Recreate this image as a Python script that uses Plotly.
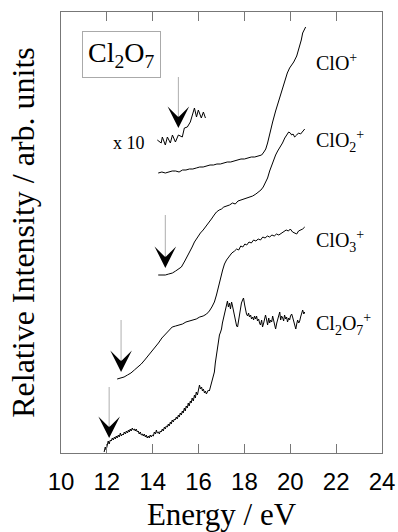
import plotly.graph_objects as go

# ---------------- data (energy in eV, intensity in arbitrary units) ----------------
clo_e = [14.24, 14.40, 14.55, 14.70, 14.85, 15.00, 15.15, 15.30, 15.45, 15.60, 15.75, 15.90,
         16.05, 16.20, 16.35, 16.50, 16.65, 16.80, 16.95, 17.10, 17.25, 17.40, 17.55, 17.70,
         17.85, 18.00, 18.15, 18.30, 18.45, 18.60, 18.75, 18.85, 18.93, 19.01, 19.10, 19.23,
         19.36, 19.54, 19.66, 19.76, 19.87, 19.97, 20.06, 20.15, 20.28, 20.41, 20.48, 20.54, 20.67]
clo_i = [280, 281, 280, 281, 282, 282, 281, 283, 283, 284, 284, 285,
         286, 286, 287, 288, 288, 289, 289, 290, 291, 291, 292, 293,
         294, 294, 295, 296, 296, 297, 298, 301, 304, 310, 320, 331,
         342, 356, 366, 373, 380, 385, 388, 391, 397, 406, 413, 420, 426]

clo_x10_e = [14.20, 14.37, 14.42, 14.55, 14.64, 14.77, 14.86, 14.99, 15.12, 15.29,
             15.38, 15.51, 15.64, 15.73, 15.82, 15.91, 15.99, 16.12, 16.21, 16.30]
clo_x10_i = [313, 310, 316, 308, 316, 310, 318, 311, 318, 316,
             325, 326, 331, 338, 345, 336, 343, 335, 341, 335]

clo2_e = [14.24, 14.40, 14.55, 14.70, 14.86, 15.00, 15.12, 15.25, 15.40, 15.50, 15.60, 15.72,
          15.82, 15.95, 16.08, 16.20, 16.34, 16.45, 16.56, 16.68, 16.78, 16.90, 17.00, 17.10,
          17.22, 17.35, 17.48, 17.60, 17.72, 17.85, 17.98, 18.10, 18.22, 18.36, 18.50, 18.62,
          18.72, 18.82, 18.92, 19.01, 19.10, 19.23, 19.36, 19.45, 19.54, 19.66, 19.76, 19.84,
          19.93, 20.00, 20.06, 20.12, 20.19, 20.28, 20.36, 20.45, 20.54, 20.63]
clo2_i = [178, 178, 178, 179, 180, 182, 184, 186, 192, 196, 201, 206,
          211, 216, 220, 223, 227, 230, 234, 238, 241, 243, 244, 246,
          247, 248, 250, 249, 252, 253, 254, 255, 256, 257, 259, 261,
          263, 266, 270, 275, 282, 291, 298, 302, 305, 310, 315, 318,
          321, 320, 318, 319, 316, 318, 320, 319, 322, 324]

clo3_e = [12.45, 12.60, 12.75, 12.90, 13.05, 13.20, 13.35, 13.50, 13.65, 13.80, 13.95, 14.10,
          14.25, 14.40, 14.55, 14.70, 14.85, 15.00, 15.15, 15.30, 15.45, 15.60, 15.75, 15.90,
          16.05, 16.20, 16.35, 16.47, 16.58, 16.69, 16.78, 16.86, 16.96, 17.05, 17.13, 17.22,
          17.35, 17.45, 17.57, 17.66, 17.75, 17.84, 17.93, 18.02, 18.10, 18.20, 18.30, 18.40,
          18.50, 18.60, 18.70, 18.80, 18.90, 19.00, 19.10, 19.20, 19.30, 19.40, 19.50, 19.62,
          19.72, 19.82, 19.92, 20.00, 20.10, 20.20, 20.28, 20.36, 20.45, 20.54, 20.63]
clo3_i = [74, 75, 76, 78, 80, 83, 86, 89, 93, 97, 101, 106,
          110, 115, 119, 123, 126, 127, 128, 129, 131, 132, 133, 134,
          136, 137, 139, 142, 146, 151, 158, 166, 175, 183, 189, 193,
          197, 200, 202, 204, 203, 207, 206, 209, 208, 211, 210, 213,
          212, 214, 213, 216, 215, 217, 216, 218, 217, 219, 218, 220,
          221, 223, 222, 224, 221, 220, 219, 222, 223, 224, 226]

cl2o7_e = [11.88, 11.93, 11.97, 12.01, 12.06, 12.10, 12.15, 12.19, 12.24, 12.28, 12.33, 12.37,
           12.41, 12.45, 12.50, 12.54, 12.59, 12.63, 12.68, 12.72, 12.76, 12.81, 12.85, 12.90,
           12.94, 12.98, 13.02, 13.06, 13.11, 13.15, 13.20, 13.24, 13.28, 13.33, 13.37, 13.41,
           13.46, 13.50, 13.55, 13.59, 13.63, 13.68, 13.72, 13.76, 13.81, 13.85, 13.89, 13.94,
           13.98, 14.03, 14.07, 14.12, 14.16, 14.20, 14.25, 14.29, 14.33, 14.37, 14.42, 14.46,
           14.51, 14.55, 14.59, 14.64, 14.68, 14.72, 14.77, 14.81, 14.85, 14.90, 14.94, 14.98,
           15.03, 15.07, 15.12, 15.16, 15.20, 15.25, 15.29, 15.33, 15.38, 15.42, 15.46, 15.51,
           15.55, 15.59, 15.64, 15.68, 15.72, 15.77, 15.82, 15.86, 15.90, 15.95, 15.99, 16.04,
           16.08, 16.13, 16.17, 16.21, 16.26, 16.30, 16.34, 16.39, 16.43, 16.47, 16.52, 16.56,
           16.60, 16.65, 16.69, 16.73, 16.78, 16.82, 16.86, 16.91, 16.96, 17.00, 17.04, 17.09,
           17.13, 17.17, 17.22, 17.26, 17.30, 17.35, 17.39, 17.44, 17.48, 17.53, 17.57, 17.61,
           17.66, 17.70, 17.74, 17.79, 17.83, 17.87, 17.92, 17.96, 18.01, 18.05, 18.09, 18.14,
           18.18, 18.22, 18.27, 18.31, 18.36, 18.40, 18.44, 18.49, 18.53, 18.57, 18.62, 18.66,
           18.70, 18.75, 18.79, 18.84, 18.88, 18.92, 18.97, 19.01, 19.06, 19.10, 19.14, 19.19,
           19.23, 19.28, 19.32, 19.36, 19.41, 19.45, 19.49, 19.54, 19.58, 19.62, 19.67, 19.71,
           19.75, 19.80, 19.84, 19.88, 19.93, 19.97, 20.01, 20.06, 20.10, 20.15, 20.19, 20.24,
           20.28, 20.32, 20.37, 20.41, 20.45, 20.50, 20.54, 20.59, 20.63]
cl2o7_i = [1, 6, 3, 9, 12, 9, 13, 12, 15, 13, 16, 14,
           17, 15, 18, 16, 20, 17, 19, 18, 21, 19, 22, 20,
           23, 21, 24, 22, 25, 23, 24, 22, 24, 21, 22, 19,
           21, 18, 19, 17, 19, 16, 18, 15, 17, 15, 18, 16,
           18, 17, 21, 19, 23, 20, 21, 19, 22, 21, 24, 22,
           26, 24, 27, 26, 29, 27, 31, 29, 33, 31, 34, 33,
           36, 34, 38, 36, 40, 38, 42, 40, 45, 42, 47, 45,
           50, 47, 52, 50, 55, 52, 58, 55, 61, 58, 65, 68,
           64, 66, 62, 64, 60, 62, 59, 61, 63, 62, 66, 68,
           72, 76, 81, 90, 98, 106, 114, 118, 121, 124, 130, 135,
           139, 144, 148, 152, 146, 150, 144, 151, 147, 141, 136, 130,
           127, 126, 132, 138, 145, 150, 153, 155, 148, 142, 139, 137,
           140, 136, 138, 134, 136, 133, 137, 134, 137, 132, 134, 130,
           128, 133, 126, 130, 136, 138, 133, 128, 135, 130, 133, 131,
           137, 131, 127, 124, 130, 134, 138, 141, 133, 137, 135, 132,
           138, 134, 136, 131, 135, 133, 137, 139, 136, 131, 127, 124,
           129, 133, 130, 132, 136, 140, 143, 139, 141]

# threshold arrows: energy, top of the thin line, tip of the arrow head
arrow_e = [15.12, 14.55, 12.62, 12.10]
arrow_top = [376, 238, 133, 66]
arrow_tip = [325, 185, 81, 15]
head_len = 12

x_ticks = [10, 12, 14, 16, 18, 20, 22, 24]

# label texts and positions
labels = ["ClO<sup>+</sup>", "ClO<sub>2</sub><sup>+</sup>", "ClO<sub>3</sub><sup>+</sup>",
          "Cl<sub>2</sub>O<sub>7</sub><sup>+</sup>"]
label_e = [21.03, 21.03, 21.03, 21.03]
label_i = [391, 312, 212, 129]

SERIF = "Liberation Serif, Times New Roman, serif"
SANS = "Liberation Sans, Arial, sans-serif"

fig = go.Figure()

for xs, ys in [(clo_e, clo_i), (clo_x10_e, clo_x10_i), (clo2_e, clo2_i),
               (clo3_e, clo3_i), (cl2o7_e, cl2o7_i)]:
    fig.add_trace(go.Scatter(x=xs, y=ys, mode="lines",
                             line=dict(color="black", width=1), showlegend=False,
                             hoverinfo="skip"))

# thin grey guide lines of the arrows
for e, top, tip in zip(arrow_e, arrow_top, arrow_tip):
    fig.add_trace(go.Scatter(x=[e, e], y=[top, tip + head_len], mode="lines",
                             line=dict(color="#999999", width=0.8), showlegend=False,
                             hoverinfo="skip"))
    fig.add_annotation(x=e, y=tip, ax=e, ay=tip + head_len, xref="x", yref="y",
                       axref="x", ayref="y", showarrow=True, arrowhead=3,
                       arrowsize=2.4, arrowwidth=1.5, arrowcolor="black", text="")

for t, e, i in zip(labels, label_e, label_i):
    fig.add_annotation(x=e, y=i, text=t, showarrow=False, xanchor="left", yanchor="middle",
                       font=dict(family=SERIF, size=20, color="black"))

fig.add_annotation(x=13.76, y=310, text="x 10", showarrow=False, xanchor="right",
                   yanchor="middle", font=dict(family=SERIF, size=18, color="black"))

fig.add_annotation(x=12.65, y=398.5, text="Cl<sub>2</sub>O<sub>7</sub>", showarrow=False,
                   xanchor="center", yanchor="middle", bordercolor="#aaaaaa", borderwidth=1,
                   borderpad=5, font=dict(family=SERIF, size=28, color="black"))

fig.update_layout(
    width=398, height=532,
    margin=dict(l=61, r=16, t=12, b=79),
    paper_bgcolor="white", plot_bgcolor="white",
    xaxis=dict(range=[10, 24], tickvals=x_ticks, ticktext=[str(v) for v in x_ticks],
               ticks="inside", ticklen=9, tickcolor="#777777", tickwidth=1,
               showline=True, linecolor="#777777", linewidth=1, mirror="ticks",
               showgrid=False, zeroline=False, automargin=False, ticklabelstandoff=7,
               tickfont=dict(family=SANS, size=24, color="black"),
               title=dict(text="Energy / eV", font=dict(family=SERIF, size=31, color="black"),
                          standoff=10)),
    yaxis=dict(range=[0, 441], showticklabels=False, ticks="",
               showline=True, linecolor="#777777", linewidth=1, mirror=True,
               showgrid=False, zeroline=False, automargin=False,
               title=dict(text="Relative Intensity / arb. units",
                          font=dict(family=SERIF, size=32, color="black"), standoff=15)),
)

fig.write_html("out.html", config={"displayModeBar": False},
               post_script="document.body.style.margin='0px';"
                           "document.body.style.overflow='hidden';")
